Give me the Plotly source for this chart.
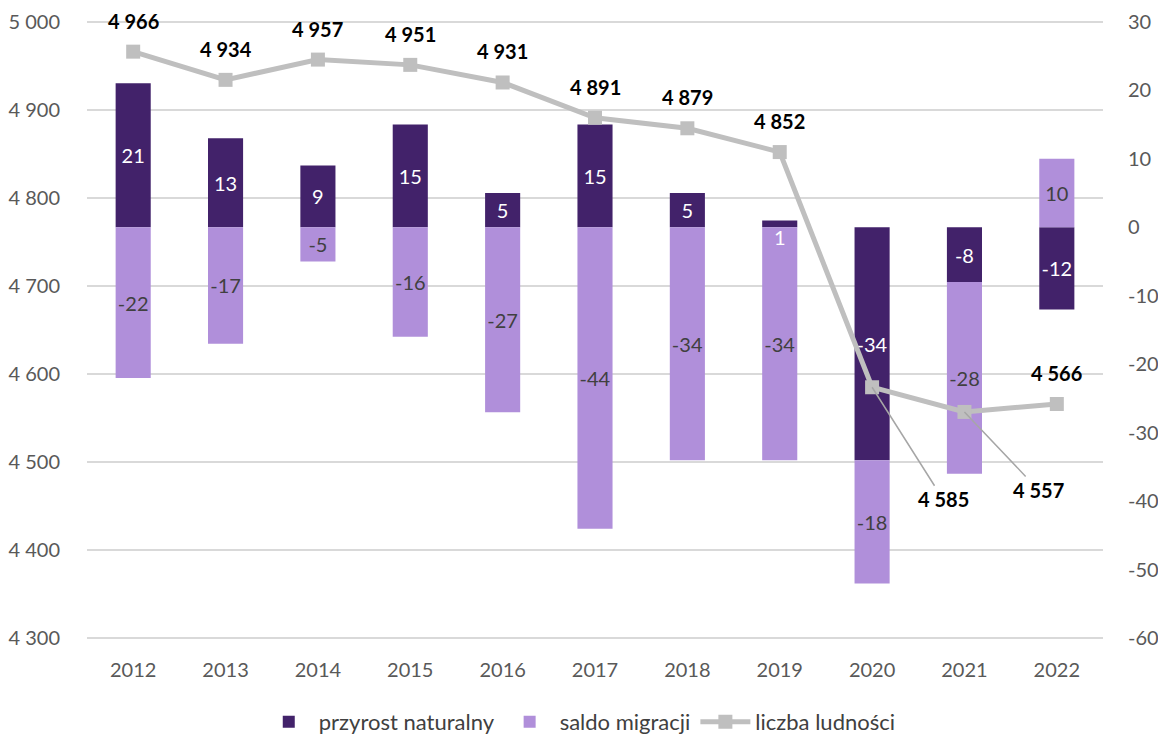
import plotly.graph_objects as go

years = ['2012', '2013', '2014', '2015', '2016', '2017', '2018', '2019', '2020', '2021', '2022']
przyrost = [21, 13, 9, 15, 5, 15, 5, 1, -34, -8, -12]
saldo = [-22, -17, -5, -16, -27, -44, -34, -34, -18, -28, 10]
ludnosc = [4966, 4934, 4957, 4951, 4931, 4891, 4879, 4852, 4585, 4557, 4566]

left_ticks = [4300, 4400, 4500, 4600, 4700, 4800, 4900, 5000]
right_ticks = [-60, -50, -40, -30, -20, -10, 0, 10, 20, 30]

DARK = '#42226a'
LIGHT = '#b08fda'
LINE = '#bfbfbf'
FONT = 'Lato, Open Sans, sans-serif'
TICK = '#595959'


def fmt(v):
    return f"{v:,}".replace(",", " ")


# tiny bar whose label is drawn just below the zero line (2019)
small_idx = [i for i, v in enumerate(przyrost) if abs(v) < 3]
dark_text = ['' if i in small_idx else str(v) for i, v in enumerate(przyrost)]

# small padding so the edge gridlines (4 300 / 5 000) are drawn
eps_r = 0.25
eps_l = eps_r * (left_ticks[-1] - left_ticks[0]) / (right_ticks[-1] - right_ticks[0])

fig = go.Figure()
fig.add_trace(go.Bar(
    x=years, y=przyrost, name='przyrost naturalny',
    marker=dict(color=DARK, line=dict(width=0)),
    text=dark_text, texttemplate='%{text}', textposition='inside', textangle=0,
    insidetextanchor='middle', constraintext='none',
    textfont=dict(color='white', size=20, family=FONT),
    yaxis='y', hoverinfo='skip'))
fig.add_trace(go.Bar(
    x=years, y=saldo, name='saldo migracji',
    marker=dict(color=LIGHT, line=dict(width=0)),
    text=[str(v) for v in saldo], texttemplate='%{text}', textposition='inside', textangle=0,
    insidetextanchor='middle', constraintext='none',
    textfont=dict(color='#404040', size=20, family=FONT),
    yaxis='y', hoverinfo='skip'))
fig.add_trace(go.Scatter(
    x=years, y=ludnosc, name='liczba ludności', mode='lines+markers',
    line=dict(color=LINE, width=5),
    marker=dict(symbol='square', size=14, color=LINE),
    yaxis='y2', hoverinfo='skip'))

annotations = []
arrow_offsets = {'2020': (71, 112), '2021': (74, 78)}
for i, (yr, v) in enumerate(zip(years, ludnosc)):
    if yr in arrow_offsets:
        ax, ay = arrow_offsets[yr]
        annotations.append(dict(
            x=i, y=v, xref='x', yref='y2', text=fmt(v), showarrow=True,
            arrowhead=0, arrowwidth=1.5, arrowcolor='#a6a6a6', ax=ax, ay=ay,
            standoff=0, font=dict(size=20, color='black', family=FONT, weight='bold')))
    else:
        annotations.append(dict(
            x=i, y=v, xref='x', yref='y2', text=fmt(v), showarrow=False,
            yshift=31, font=dict(size=20, color='black', family=FONT, weight='bold')))

for i in small_idx:
    annotations.append(dict(
        x=i, y=0, xref='x', yref='y', text=str(przyrost[i]), showarrow=False,
        yshift=-10, font=dict(size=20, color='white', family=FONT)))

fig.update_layout(
    width=1166, height=734,
    margin=dict(l=79, r=71, t=12, b=102, autoexpand=False),
    paper_bgcolor='white', plot_bgcolor='white',
    barmode='relative', bargap=0.62,
    separators=', ',
    font=dict(family=FONT, size=20, color=TICK),
    showlegend=True,
    legend=dict(orientation='h', x=0.485, xanchor='center',
                yref='container', y=20 / 734, yanchor='middle',
                font=dict(size=22, color='#404040'), itemwidth=50, tracegroupgap=0),
    xaxis=dict(type='category', range=[-0.5, len(years) - 0.5], showgrid=False,
               showline=False, ticks='outside', ticklen=12, tickcolor='rgba(0,0,0,0)',
               tickfont=dict(size=20, color=TICK)),
    yaxis=dict(side='right', range=[right_ticks[0] - eps_r, right_ticks[-1] + eps_r],
               tickvals=right_ticks, ticktext=[str(t) for t in right_ticks],
               showgrid=False, zeroline=False,
               showline=False, ticks='outside', ticklen=20, tickcolor='rgba(0,0,0,0)',
               tickfont=dict(size=20, color=TICK)),
    yaxis2=dict(side='left', overlaying='y',
                range=[left_ticks[0] - eps_l, left_ticks[-1] + eps_l],
                tickvals=left_ticks, ticktext=[fmt(t) for t in left_ticks],
                showgrid=True, gridcolor='#d9d9d9', gridwidth=1.5,
                zeroline=False, showline=False,
                ticks='outside', ticklen=22, tickcolor='rgba(0,0,0,0)',
                tickfont=dict(size=20, color=TICK)),
    annotations=annotations,
)

fig.write_html('out.html')
